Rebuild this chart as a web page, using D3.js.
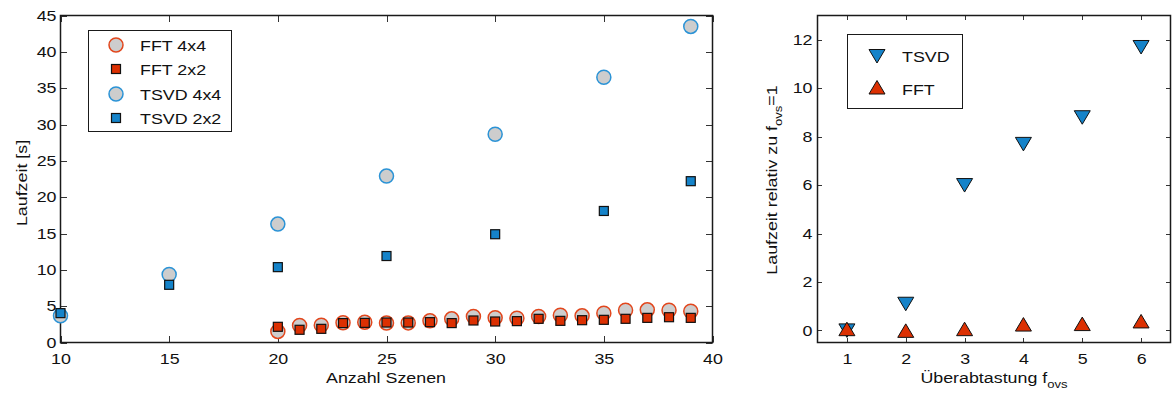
<!DOCTYPE html>
<html>
<head>
<meta charset="utf-8">
<script src="https://cdn.jsdelivr.net/npm/d3@7"></script>
<style>
  html, body { margin: 0; padding: 0; background: #fff; }
  svg { display: block; font-family: "Liberation Sans", Arial, sans-serif; }
</style>
</head>
<body>
<svg id="chart" width="1172" height="394"></svg>
<script>
// ---- Laufzeit vs. Anzahl Szenen ----
const szenenTSVD = [10, 15, 20, 25, 30, 35, 39];
const tsvd4x4 = [3.67, 9.36, 16.3, 22.9, 28.66, 36.5, 43.5];
const tsvd2x2 = [4.04, 7.94, 10.37, 11.9, 14.9, 18.1, 22.2];

const szenenFFT = [20, 21, 22, 23, 24, 25, 26, 27, 28, 29, 30, 31, 32, 33, 34, 35, 36, 37, 38, 39];
const fft4x4 = [1.52, 2.34, 2.39, 2.71, 2.8, 2.67, 2.7, 2.98, 3.26, 3.58, 3.4, 3.35, 3.58, 3.76, 3.67, 4.04, 4.45, 4.5, 4.45, 4.3];
const fft2x2 = [2.16, 1.75, 1.88, 2.67, 2.7, 2.75, 2.75, 2.8, 2.67, 3.03, 2.89, 2.94, 3.26, 2.98, 3.07, 3.12, 3.26, 3.39, 3.48, 3.39];

const leftXTicks = [10, 15, 20, 25, 30, 35, 40];
const leftYTicks = [0, 5, 10, 15, 20, 25, 30, 35, 40, 45];
const leftLegend = ["FFT 4x4", "FFT 2x2", "TSVD 4x4", "TSVD 2x2"];

// ---- relative Laufzeit vs. Überabtastung ----
const fovs = [1, 2, 3, 4, 5, 6];
const relTSVD = [0.0, 1.1, 6.0, 7.7, 8.8, 11.7];
const relFFT = [0.05, -0.02, 0.05, 0.24, 0.26, 0.37];
const rightXTicks = [1, 2, 3, 4, 5, 6];
const rightYTicks = [0, 2, 4, 6, 8, 10, 12];
const rightLegend = ["TSVD", "FFT"];

const BLUE = "#1583c9", BLUE_EDGE = "#2b93d6";
const RED = "#dc3002", RED_EDGE = "#e2461c";
const GRAY = "#cdcdcd";
const AXIS = "#1a1a1a";
const FONT = 15;
const SX = 1.19;   // horizontal stretch of all lettering

const svg = d3.select("#chart");

// text placed at (x, y) and stretched horizontally
function label(g, x, y, str, anchor = "start", rotate = 0) {
  const t = g.append("text")
    .attr("transform", `translate(${x},${y})` + (rotate ? ` rotate(${rotate})` : "") + ` scale(${SX},1)`)
    .attr("text-anchor", anchor).attr("font-size", FONT).attr("fill", "#111");
  if (str !== null) t.text(str);
  return t;
}

function frame(g, x, y, xTicks, yTicks, tickLen, yPad) {
  const [x0, x1] = x.range();
  const [y0, y1] = y.range();
  // inward ticks on all four sides
  const tk = g.append("g").attr("stroke", "#333").attr("stroke-width", 1);
  xTicks.forEach(t => {
    const px = Math.round(x(t)) + 0.5;
    tk.append("line").attr("x1", px).attr("x2", px).attr("y1", y0).attr("y2", y0 - tickLen);
    tk.append("line").attr("x1", px).attr("x2", px).attr("y1", y1).attr("y2", y1 + tickLen);
  });
  yTicks.forEach(t => {
    const py = Math.round(y(t)) + 0.5;
    tk.append("line").attr("x1", x0).attr("x2", x0 + tickLen).attr("y1", py).attr("y2", py);
    tk.append("line").attr("x1", x1).attr("x2", x1 - tickLen).attr("y1", py).attr("y2", py);
  });
  g.append("rect")
    .attr("x", x0).attr("y", y1)
    .attr("width", x1 - x0).attr("height", y0 - y1)
    .attr("fill", "none").attr("stroke", AXIS).attr("stroke-width", 1.5);
  // tick labels
  const bottom = d3.axisBottom(x).tickValues(xTicks).tickFormat(d3.format("d")).tickSize(0).tickPadding(11);
  const left = d3.axisLeft(y).tickValues(yTicks).tickFormat(d3.format("d")).tickSize(0).tickPadding(yPad);
  const gb = g.append("g").attr("transform", `translate(0,${y0})`).call(bottom);
  const gl = g.append("g").attr("transform", `translate(${x0},0)`).call(left);
  [gb, gl].forEach(a => {
    a.select(".domain").remove();
    a.selectAll("text")
      .attr("font-size", FONT).attr("fill", "#111")
      .attr("font-family", "Liberation Sans, Arial, sans-serif")
      .attr("x", function () { return (+d3.select(this).attr("x") || 0) / SX; })
      .attr("transform", `scale(${SX},1)`);
  });
}

function circle(sel, fill, edge) {
  return sel.attr("r", 7).attr("fill", fill).attr("stroke", edge).attr("stroke-width", 1.5);
}
const sqSize = 9;
function square(sel, fill) {
  return sel.attr("x", -sqSize / 2).attr("y", -sqSize / 2)
    .attr("width", sqSize).attr("height", sqSize)
    .attr("fill", fill).attr("stroke", "#111").attr("stroke-width", 1.2);
}

// ================= left chart =================
const xL = d3.scaleLinear().domain([10, 40]).range([60.5, 712.5]);
const yL = d3.scaleLinear().domain([0, 45]).range([342.5, 15.5]);
const gL = svg.append("g");
frame(gL, xL, yL, leftXTicks, leftYTicks, 6.5, 4);

const marksL = gL.append("g");
function drawCircles(xs, ys, edge) {
  marksL.selectAll(null).data(xs.map((d, i) => [d, ys[i]])).enter()
    .append("circle").attr("cx", d => xL(d[0])).attr("cy", d => yL(d[1]))
    .call(circle, GRAY, edge);
}
function drawSquares(xs, ys, fill) {
  marksL.selectAll(null).data(xs.map((d, i) => [d, ys[i]])).enter()
    .append("rect").attr("transform", d => `translate(${xL(d[0])},${yL(d[1])})`)
    .call(square, fill);
}
drawCircles(szenenFFT, fft4x4, RED_EDGE);
drawSquares(szenenFFT, fft2x2, RED);
drawCircles(szenenTSVD, tsvd4x4, BLUE_EDGE);
drawSquares(szenenTSVD, tsvd2x2, BLUE);

// legend
const legL = gL.append("g");
legL.append("rect").attr("x", 88.5).attr("y", 30.5).attr("width", 143).attr("height", 101)
  .attr("fill", "#fff").attr("stroke", AXIS).attr("stroke-width", 1);
const legLY = [45, 69, 94, 118];
leftLegend.forEach((name, i) => {
  const cy = legLY[i];
  if (i === 0) legL.append("circle").attr("cx", 116).attr("cy", cy).call(circle, GRAY, RED_EDGE);
  if (i === 1) legL.append("rect").attr("transform", `translate(116,${cy})`).call(square, RED);
  if (i === 2) legL.append("circle").attr("cx", 116).attr("cy", cy).call(circle, GRAY, BLUE_EDGE);
  if (i === 3) legL.append("rect").attr("transform", `translate(116,${cy})`).call(square, BLUE);
  label(legL, 140, cy + 5.7, name);
});

label(gL, 386, 382.5, "Anzahl Szenen", "middle");
label(gL, 26.5, 183, "Laufzeit [s]", "middle", -90);

// ================= right chart =================
const xR = d3.scaleLinear().domain([0.5, 6.5]).range([817.5, 1170.5]);
const yR = d3.scaleLinear().domain([-0.5, 13]).range([342.5, 15.5]);
const gR = svg.append("g");
frame(gR, xR, yR, rightXTicks, rightYTicks, 4.5, 5);

const triDown = d3.symbol().type({
  draw(ctx) { ctx.moveTo(-8, -6.5); ctx.lineTo(8, -6.5); ctx.lineTo(0, 7); ctx.closePath(); }
})();
const triUp = d3.symbol().type({
  draw(ctx) { ctx.moveTo(-8, 6.5); ctx.lineTo(8, 6.5); ctx.lineTo(0, -7); ctx.closePath(); }
})();

const marksR = gR.append("g");
marksR.selectAll(null).data(fovs.map((d, i) => [d, relTSVD[i]])).enter()
  .append("path").attr("d", triDown)
  .attr("transform", d => `translate(${xR(d[0])},${yR(d[1])})`)
  .attr("fill", BLUE).attr("stroke", "#111").attr("stroke-width", 1);
marksR.selectAll(null).data(fovs.map((d, i) => [d, relFFT[i]])).enter()
  .append("path").attr("d", triUp)
  .attr("transform", d => `translate(${xR(d[0])},${yR(d[1])})`)
  .attr("fill", RED).attr("stroke", "#111").attr("stroke-width", 1);

const legR = gR.append("g");
legR.append("rect").attr("x", 847.5).attr("y", 34.5).attr("width", 115).attr("height", 74)
  .attr("fill", "#fff").attr("stroke", AXIS).attr("stroke-width", 1);
const legRY = [56, 87.5];
const legRText = [61.7, 95];
rightLegend.forEach((name, i) => {
  legR.append("path").attr("d", i === 0 ? triDown : triUp)
    .attr("transform", `translate(877,${legRY[i]})`)
    .attr("fill", i === 0 ? BLUE : RED).attr("stroke", "#111").attr("stroke-width", 1);
  label(legR, 902, legRText[i], name);
});

const xlab = label(gR, 994, 382.5, null, "middle");
xlab.append("tspan").text("Überabtastung f");
xlab.append("tspan").attr("font-size", 11).attr("dy", 5).text("ovs");

const ylab = label(gR, 777, 180, null, "middle", -90);
ylab.append("tspan").text("Laufzeit relativ zu f");
ylab.append("tspan").attr("font-size", 11).attr("dy", 5).text("ovs");
ylab.append("tspan").attr("dy", -5).text("=1");
</script>
</body>
</html>
